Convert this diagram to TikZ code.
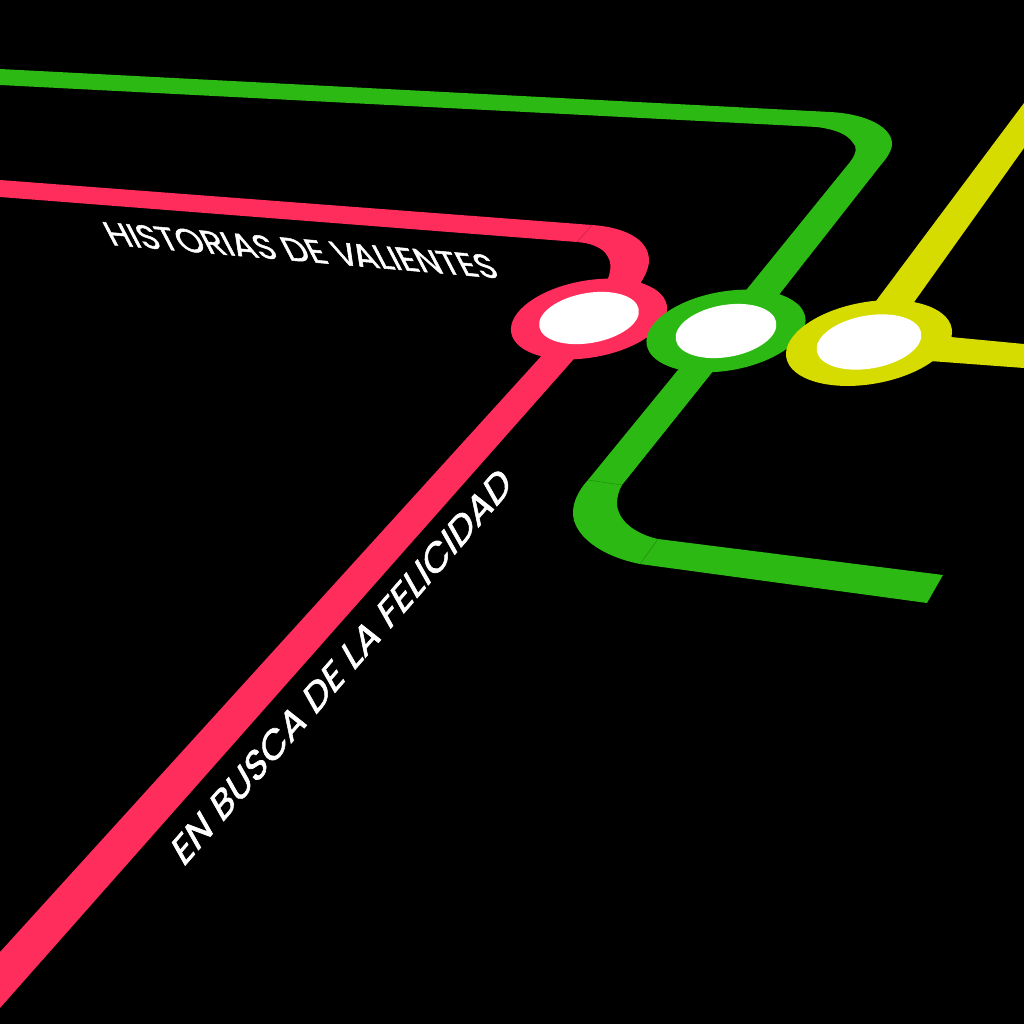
\documentclass[tikz,border=0pt]{standalone}
\usepackage{xcolor}
\usepackage{fontspec}
\setmainfont{Poppins}[FakeBold=1.6]
\usetikzlibrary{shapes.geometric}
\definecolor{pinkline}{RGB}{255, 45, 92}
\definecolor{greenline}{RGB}{45, 185, 20}
\definecolor{yellowline}{RGB}{214, 219, 0}
\begin{document}
\begin{tikzpicture}[
    x=1pt, y=-1pt,
    ring/.style={ellipse, inner sep=0pt, rotate=10},
    hole/.style={ellipse, inner sep=0pt, rotate=10, fill=white},
    seam/.style={line width=0.5pt, draw=#1!75!black},
    lettering/.style={transform shape, text=white, inner sep=0pt, anchor=base west, font=\fontsize{36}{36}\selectfont}
]

\fill[black] (0,0) rectangle (1024,1024);
\useasboundingbox (0,0) rectangle (1024,1024);

% pink line
\fill[pinkline] (0,180) -- (592,225) .. controls (622,227) and (650,238) .. (649,262)
    .. controls (648,270) and (645,276) .. (640,284) -- (606,284)
    .. controls (611,272) and (612,264) .. (608,257) .. controls (603,247) and (590,243) .. (577,242)
    -- (0,197) -- cycle;
\fill[pinkline] (545,352) -- (0,952) -- (0,1008) -- (580,352) -- cycle;
\draw[seam=pinkline] (577,242) -- (592,225);

% green line
\fill[greenline] (0,69) -- (830,112) .. controls (868,114) and (893,128) .. (892,145)
    .. controls (891,153) and (885,160) .. (880,166) -- (778,296) -- (743,294) -- (850,162)
    .. controls (857,153) and (857,146) .. (853,143) .. controls (847,133) and (832,129) .. (817,127)
    -- (0,85) -- cycle;
\fill[greenline] (682,365) -- (588,480) .. controls (578,491) and (573,502) .. (573,513)
    .. controls (573,535) and (600,556) .. (640,564)
    -- (927,603) -- (943,575) -- (658,539) .. controls (635,534) and (617,520) .. (617,503)
    .. controls (617,497) and (619,490) .. (622,485)
    -- (718,365) -- cycle;
\draw[seam=greenline] (588,480) -- (622,485);
\draw[seam=greenline] (640,564) -- (658,539);

% yellow line
\fill[yellowline] (873,305) -- (1024,103) -- (1024,148) -- (912,305) -- cycle;
\fill[yellowline] (940,336) -- (1024,344) -- (1024,368) -- (930,361) -- cycle;

% stops
\node[ring, fill=pinkline, minimum width=158pt, minimum height=77pt] (pinkstop) at (589,319) {};
\node[hole, minimum width=101pt, minimum height=50pt] (pinkhole) at (589,318) {};
\node[ring, fill=greenline, minimum width=161pt, minimum height=79pt] (greenstop) at (726,331) {};
\node[hole, minimum width=102pt, minimum height=52pt] (greenhole) at (726,331) {};
\node[ring, fill=yellowline, minimum width=168pt, minimum height=82pt] (yellowstop) at (869,343) {};
\node[hole, minimum width=106pt, minimum height=53pt] (yellowhole) at (869,342) {};

% labels
\node[lettering, cm={0.94,-0.081,-0.48,0.92,(112,245)}] (valientes) at (0,0) {HISTORIAS DE V\kern-4pt ALIENTES};
\node[lettering, cm={0.72,0.83,-0.52,0.92,(183,868)}] (felicidad) at (0,0) {EN BUSCA DE LA FELICIDAD};

\end{tikzpicture}
\end{document}
